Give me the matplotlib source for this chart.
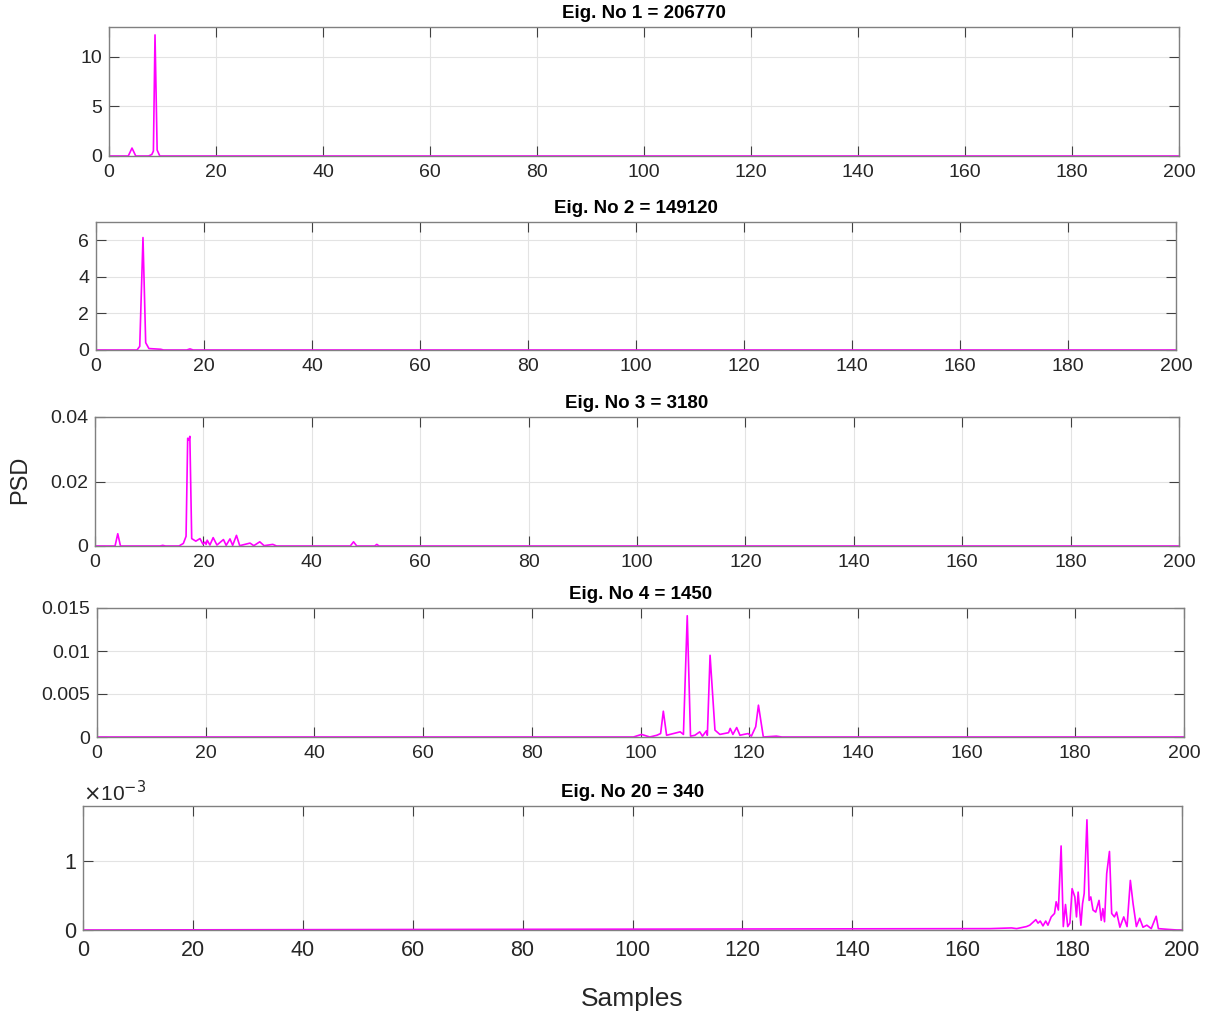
import matplotlib
matplotlib.use("Agg")
import matplotlib.pyplot as plt
from matplotlib.ticker import FuncFormatter

plt.rcParams['font.family'] = ['Liberation Sans', 'DejaVu Sans']

# ---------------- data ----------------
titles = ["Eig. No 1 = 206770", "Eig. No 2 = 149120", "Eig. No 3 = 3180",
          "Eig. No 4 = 1450", "Eig. No 20 = 340"]

x1 = [0, 3.6, 4.3, 5.0, 7.4, 8.0, 8.3, 8.6, 9.0, 9.5, 200]
y1 = [0, 0, 0.8, 0, 0, 0.15, 0.5, 12.2, 0.6, 0, 0]

x2 = [0, 7.6, 8.1, 8.7, 9.2, 9.8, 12.0, 12.5, 16.8, 17.4, 18.0, 200]
y2 = [0, 0, 0.2, 6.15, 0.4, 0.08, 0.04, 0, 0, 0.06, 0, 0]

x3 = [0, 3.7, 4.2, 4.7, 12.0, 12.5, 13.0, 15.5, 16.3, 16.8, 17.1, 17.3, 17.5, 17.84,
      18.6, 19.37, 19.9, 20.3, 20.5, 20.7, 21.2, 21.8, 22.5, 23.7, 24.2, 24.9, 25.4,
      26.1, 26.7, 28.6, 29.3, 30.4, 31.2, 32.8, 33.5, 47.1, 47.7, 48.3, 51.6, 52.0, 52.4, 200]
y3 = [0, 0, 0.0038, 0, 0, 0.0002, 0, 0, 0.0008, 0.003, 0.0334, 0.0328, 0.034, 0.0023,
      0.0015, 0.0023, 0.0006, 0.0012, 0.0005, 0.0018, 0.0003, 0.0026, 0.0003, 0.002, 0.0002,
      0.0022, 0.0002, 0.0033, 0.0001, 0.0009, 0.0001, 0.0013, 0.0001, 0.0005, 0, 0, 0.0013,
      0, 0, 0.0005, 0, 0]

x4 = [0, 98.7, 100.2, 101.7, 103.0, 103.7, 104.2, 104.8, 107.3, 107.9, 108.6, 109.2,
      110.0, 110.9, 111.4, 112.1, 112.3, 112.8, 113.7, 114.6, 116.2, 116.5, 117.0, 117.7,
      118.3, 119.0, 119.8, 120.4, 121.2, 121.7, 122.6, 125.0, 126.0, 200]
y4 = [0, 0, 0.0003, 0, 0.0002, 0.0004, 0.003, 0.0002, 0.0006, 0.0003, 0.0141, 0.0001,
      0.0002, 0.0006, 0.0001, 0.0007, 0.0002, 0.0095, 0.0008, 0.0003, 0.0005, 0.001, 0.0003,
      0.0011, 0.0002, 0.0003, 0.0004, 0.0001, 0.0012, 0.0037, 0, 0.0001, 0, 0]

x5 = [0, 165.1, 169.0, 169.9, 171.7, 172.3, 173.4, 173.8, 174.2, 174.7, 175.2, 175.6,
      176.2, 176.8, 177.1, 177.5, 178.0, 178.4, 178.8, 179.2, 179.6, 180.0, 180.5, 180.8,
      181.1, 181.6, 181.9, 182.2, 182.7, 183.1, 183.4, 183.8, 184.3, 184.9, 185.3, 185.6,
      185.9, 186.3, 186.8, 187.2, 187.7, 188.1, 188.7, 189.4, 190.0, 190.6, 191.1, 191.7,
      192.3, 192.9, 193.6, 194.4, 195.3, 195.7, 197.3, 199.1, 200]
y5 = [0, 0.02, 0.03, 0.02, 0.05, 0.07, 0.15, 0.10, 0.13, 0.06, 0.13, 0.07,
      0.19, 0.24, 0.41, 0.29, 1.22, 0.05, 0.37, 0.05, 0.10, 0.60, 0.48, 0.19,
      0.55, 0.07, 0.38, 0.53, 1.60, 0.43, 0.48, 0.29, 0.26, 0.43, 0.14, 0.31,
      0.12, 0.82, 1.14, 0.24, 0.19, 0.26, 0.04, 0.19, 0.05, 0.72, 0.38, 0.05,
      0.17, 0.04, 0.07, 0.02, 0.20, 0.02, 0.01, 0, 0]  # in units of 1e-3

xs = [x1, x2, x3, x4, x5]
ys = [y1, y2, y3, y4, y5]
ylims = [13, 7, 0.04, 0.015, 1.8]
yticks = [[0, 5, 10], [0, 2, 4, 6], [0, 0.02, 0.04], [0, 0.005, 0.01, 0.015], [0, 1]]
xticks = list(range(0, 201, 20))

# axes boxes in pixels: left, right, top, bottom
boxes = [(109, 1179, 27, 156), (96, 1176, 222, 350), (95, 1179, 417, 546),
         (97, 1184, 608, 737), (83, 1182, 806, 930)]

W, H = 1214, 1019
fig = plt.figure(figsize=(W / 100, H / 100), dpi=100)

txt = '#262626'
spine = '#808080'
for i, (l, r, t, b) in enumerate(boxes):
    ax = fig.add_axes([l / W, 1 - b / H, (r - l) / W, (b - t) / H])
    ax.plot(xs[i], ys[i], color='#ff00ff', lw=1.2)
    ax.set_xlim(0, 200)
    ax.set_ylim(0, ylims[i])
    ax.set_xticks(xticks)
    ax.set_yticks(yticks[i])
    ax.yaxis.set_major_formatter(FuncFormatter(lambda v, p: '%g' % v))
    fs = 15.5 if i == 4 else 14
    ax.tick_params(direction='in', length=7, width=0.8, colors='#404040',
                   labelcolor=txt, labelsize=fs, top=True, right=True)
    ax.tick_params(axis='x', pad=7 if i == 4 else 6)
    ax.tick_params(axis='y', pad=5)
    ax.grid(True, color='#e3e3e3', lw=0.8)
    ax.set_axisbelow(True)
    for s in ax.spines.values():
        s.set_color(spine)
        s.set_linewidth(1.0)
    ax.set_title(titles[i], fontsize=13.5, fontweight='bold', color='black', pad=6.5)

fig.text(83 / W, 1 - 793 / H, r'$\times$10$^{-3}$', fontsize=15, color=txt,
         ha='left', va='center')
fig.text(20 / W, 1 - 480 / H, 'PSD', fontsize=17, color=txt, rotation=90,
         ha='center', va='center')
fig.text(632 / W, 1 - 999 / H, 'Samples', fontsize=19, color=txt,
         ha='center', va='center')

fig.savefig('out.png', dpi=100, facecolor='white')
